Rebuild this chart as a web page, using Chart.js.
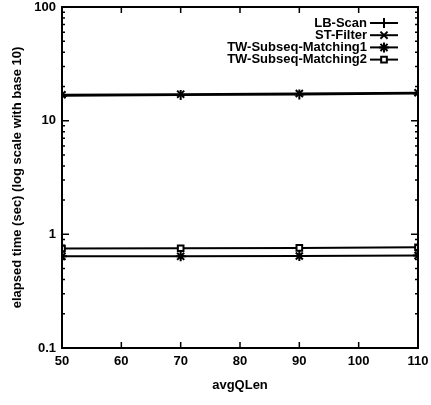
<!DOCTYPE html>
<html>
<head>
<meta charset="utf-8">
<script src="https://cdn.jsdelivr.net/npm/chart.js@4.4.1/dist/chart.umd.min.js"></script>
<style>
  html, body { margin: 0; padding: 0; background: #fff; }
  #wrap { width: 431px; height: 405px; }
</style>
</head>
<body>
<div id="wrap"><canvas id="timeChart"></canvas></div>
<script>
const avgQLen = [50, 70, 90, 110];
const lbScan = [16.6, 16.8, 17.0, 17.3];
const stFilter = [16.9, 17.1, 17.3, 17.6];
const twMatching1 = [0.64, 0.64, 0.645, 0.65];
const twMatching2 = [0.75, 0.755, 0.76, 0.77];
const xTicks = [50, 60, 70, 80, 90, 100, 110];
const yTicks = [0.1, 1, 10, 100];

const FONT = 'Liberation Sans, Arial, sans-serif';

function points(values) {
    return avgQLen.map((x, i) => ({ x: x, y: values[i] }));
}

function series(label, values, style) {
    return {
        label: label,
        data: points(values),
        borderColor: '#000',
        backgroundColor: 'rgba(0,0,0,0)',
        borderWidth: 2,
        pointStyle: style,
        pointRadius: style === 'rect' ? 4 : 5,
        pointBorderColor: '#000',
        pointBackgroundColor: '#fff',
        pointBorderWidth: 2,
        tension: 0
    };
}

// gnuplot-style frame, inward ticks and key
const framePlugin = {
    id: 'frame',
    afterDraw(chart) {
        const ctx = chart.ctx;
        const area = chart.chartArea;
        const xs = chart.scales.x;
        const ys = chart.scales.y;
        ctx.save();
        ctx.strokeStyle = '#000';
        ctx.lineWidth = 2;
        ctx.strokeRect(area.left, area.top, area.right - area.left, area.bottom - area.top);

        ctx.lineWidth = 1.5;
        ctx.beginPath();
        xTicks.forEach(v => {
            const px = xs.getPixelForValue(v);
            ctx.moveTo(px, area.bottom); ctx.lineTo(px, area.bottom - 6);
            ctx.moveTo(px, area.top); ctx.lineTo(px, area.top + 6);
        });
        for (let d = 0; d < yTicks.length; d++) {
            const base = yTicks[d];
            const major = ys.getPixelForValue(base);
            ctx.moveTo(area.left, major); ctx.lineTo(area.left + 7, major);
            ctx.moveTo(area.right, major); ctx.lineTo(area.right - 7, major);
            if (d === yTicks.length - 1) break;
            for (let m = 2; m <= 9; m++) {
                const py = ys.getPixelForValue(base * m);
                ctx.moveTo(area.left, py); ctx.lineTo(area.left + 3, py);
                ctx.moveTo(area.right, py); ctx.lineTo(area.right - 3, py);
            }
        }
        ctx.stroke();

        // key, top right inside the frame
        ctx.font = 'bold 13px ' + FONT;
        ctx.textAlign = 'right';
        ctx.textBaseline = 'middle';
        const textRight = area.right - 51;
        const lineLeft = area.right - 48;
        const lineRight = area.right - 20;
        chart.data.datasets.forEach((ds, i) => {
            const y = area.top + 16 + i * 12.2;
            ctx.fillStyle = '#000';
            ctx.fillText(ds.label, textRight, y);
            ctx.lineWidth = 2;
            ctx.beginPath();
            ctx.moveTo(lineLeft, y); ctx.lineTo(lineRight, y);
            ctx.stroke();
            ctx.fillStyle = '#fff';
            Chart.helpers.drawPoint(ctx, {
                pointStyle: ds.pointStyle,
                radius: ds.pointStyle === 'rect' ? 4 : 5,
                borderWidth: 2
            }, (lineLeft + lineRight) / 2, y);
        });
        ctx.restore();
    }
};

new Chart(document.getElementById('timeChart'), {
    type: 'line',
    data: {
        datasets: [
            series('LB-Scan', lbScan, 'cross'),
            series('ST-Filter', stFilter, 'crossRot'),
            series('TW-Subseq-Matching1', twMatching1, 'star'),
            series('TW-Subseq-Matching2', twMatching2, 'rect')
        ]
    },
    options: {
        responsive: true,
        maintainAspectRatio: false,
        animation: false,
        layout: { padding: { top: 7, right: 13, left: 10, bottom: 12 } },
        plugins: {
            legend: { display: false },
            tooltip: { enabled: false }
        },
        scales: {
            x: {
                type: 'linear',
                min: 50,
                max: 110,
                afterBuildTicks: scale => { scale.ticks = xTicks.map(v => ({ value: v })); },
                afterFit: scale => { scale.height = 45; scale.paddingLeft = 0; scale.paddingRight = 0; },
                grid: { display: false, drawTicks: false },
                border: { display: false },
                ticks: {
                    color: '#000',
                    padding: 6,
                    maxRotation: 0,
                    font: { family: FONT, size: 13, weight: 'bold' }
                },
                title: {
                    display: true,
                    text: 'avgQLen',
                    color: '#000',
                    padding: { top: 2, bottom: 0 },
                    font: { family: FONT, size: 13, weight: 'bold' }
                }
            },
            y: {
                type: 'logarithmic',
                min: 0.1,
                max: 100,
                afterBuildTicks: scale => { scale.ticks = yTicks.map(v => ({ value: v })); },
                afterFit: scale => { scale.width = 52; scale.paddingTop = 0; scale.paddingBottom = 0; },
                grid: { display: false, drawTicks: false },
                border: { display: false },
                ticks: {
                    color: '#000',
                    padding: 6,
                    callback: v => String(v),
                    font: { family: FONT, size: 13, weight: 'bold' }
                },
                title: {
                    display: true,
                    text: 'elapsed time (sec) (log scale with base 10)',
                    color: '#000',
                    padding: { top: 0, bottom: 2 },
                    font: { family: FONT, size: 13, weight: 'bold' }
                }
            }
        }
    },
    plugins: [framePlugin]
});
</script>
</body>
</html>
